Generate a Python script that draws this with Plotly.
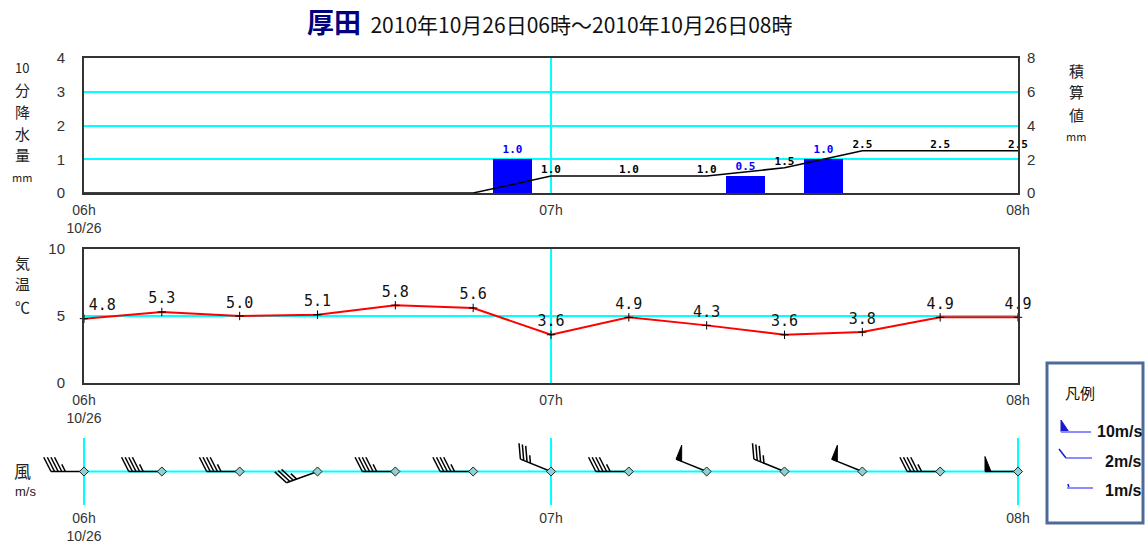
import math
import plotly.graph_objects as go

# ---------------- data ----------------
station = "厚田"
period = "2010年10月26日06時～2010年10月26日08時"
time_labels = ["06:00", "06:10", "06:20", "06:30", "06:40", "06:50", "07:00",
               "07:10", "07:20", "07:30", "07:40", "07:50", "08:00"]
precip_10min = [0, 0, 0, 0, 0, 0, 1.0, 0, 0, 0.5, 1.0, 0, 0]          # mm (left axis)
precip_total = [0, 0, 0, 0, 0, 0, 1.0, 1.0, 1.0, 1.5, 2.5, 2.5, 2.5]  # mm (right axis)
temperature = [4.8, 5.3, 5.0, 5.1, 5.8, 5.6, 3.6, 4.9, 4.3, 3.6, 3.8, 4.9, 4.9]
wind_dir = [270, 270, 270, 250, 270, 270, 292, 270, 292, 292, 292, 270, 270]  # deg (from)
wind_speed = [9, 9, 9, 7, 9, 9, 7, 9, 10, 7, 10, 9, 10]                        # m/s
tick_times = ["06:00", "07:00", "08:00"]
tick_text = ["06h<br>10/26", "07h", "08h"]
precip_ticks = [0, 1, 2, 3, 4]
total_ticks = [0, 2, 4, 6, 8]
temp_ticks = [0, 5, 10]
legend_labels = ["10m/s", "2m/s", "1m/s"]
precip_title = ["10", "分", "降", "水", "量", "mm"]
total_title = ["積", "算", "値", "mm"]
temp_title = ["気", "温", "℃"]
wind_title = ["風", "m/s"]

# ---------------- layout geometry (pixels) ----------------
W, H = 1145, 547
PL, PR = 84, 1018
TOP_T, TOP_B = 58, 193
MID_T, MID_B = 249, 383
WND_T, WND_B = 438, 505
WND_L, WND_R = 30, 1040

CYAN = "#00ffff"
AXC = "#333333"
TICKFONT = dict(family="Liberation Sans, Arial", size=14, color="#333333")
CJK = "Noto Sans CJK JP"


def to_min(s):
    h, m = s.split(":")
    return (int(h) - 6) * 60 + int(m)


minutes = [to_min(t) for t in time_labels]
tickvals = [to_min(t) for t in tick_times]
t0, t1 = minutes[0], minutes[-1]
PPM = (PR - PL) / (t1 - t0)  # pixels per minute


def fx(px):
    return px / W


def fy(py):
    return 1 - py / H


fig = go.Figure()

# ---- precipitation panel ----
fig.add_trace(go.Bar(
    x=[m - 5 for m in minutes], y=precip_10min, width=5,
    marker=dict(color="#0000ff", line_width=0),
    text=[f"{v:.1f}" if v > 0 else "" for v in precip_10min],
    textposition="outside", cliponaxis=False,
    textfont=dict(family="DejaVu Sans Mono", size=11, color="#0000ff", weight="bold"),
    xaxis="x", yaxis="y", hoverinfo="skip"))

fig.add_trace(go.Scatter(
    x=minutes, y=precip_total, mode="lines+text",
    line=dict(color="black", width=1.5),
    text=[f"{v:.1f}" if v > 0 else "" for v in precip_total],
    textposition="top center", cliponaxis=False,
    textfont=dict(family="DejaVu Sans Mono", size=11, color="black", weight="bold"),
    xaxis="x", yaxis="y2", hoverinfo="skip"))

# ---- temperature panel ----
fig.add_trace(go.Scatter(
    x=minutes, y=temperature, mode="lines+markers+text",
    line=dict(color="#ff0000", width=2),
    marker=dict(symbol="cross-thin", size=6, line=dict(color="black", width=1)),
    text=[f"{v:.1f}" for v in temperature],
    textposition=["top right"] + ["top center"] * (len(temperature) - 1),
    cliponaxis=False,
    textfont=dict(family="DejaVu Sans Mono", size=15, color="#111111"),
    xaxis="x2", yaxis="y3", hoverinfo="skip"))

# ---- wind panel ----
fig.add_trace(go.Scatter(
    x=[t0, t1], y=[0, 0], mode="lines", line=dict(color=CYAN, width=2),
    xaxis="x3", yaxis="y4", hoverinfo="skip"))

SHAFT, SPACING, LONG, SHORT = 33, 3.6, 16, 8
FLAG_H, FLAG_W = 15, 6
lx, ly, flx, fly = [], [], [], []
for m, d, s in zip(minutes, wind_dir, wind_speed):
    th = math.radians(d)
    ux, uy = math.sin(th), math.cos(th)          # pointing to where the wind comes from
    a = math.radians(-63)
    bx, by = ux * math.cos(a) - uy * math.sin(a), ux * math.sin(a) + uy * math.cos(a)
    fxv, fyv = uy, -ux                             # perpendicular for the flag
    if fyv < 0:
        fxv, fyv = -fxv, -fyv

    def P(px, py):
        return m + px / PPM, py

    ex, ey = SHAFT * ux, SHAFT * uy
    x0, y0 = P(0, 0)
    x1, y1 = P(ex, ey)
    lx += [x0, x1, None]
    ly += [y0, y1, None]
    pos = SHAFT
    flags, rem = divmod(int(round(s)), 10)
    longs, shorts = divmod(rem, 2)
    for _ in range(flags):
        px_, py_ = pos * ux, pos * uy
        pa = P(px_, py_)
        pb = P(px_ + FLAG_H * fxv, py_ + FLAG_H * fyv)
        pc = P(px_ - FLAG_W * ux, py_ - FLAG_W * uy)
        flx += [pa[0], pb[0], pc[0], pa[0], None]
        fly += [pa[1], pb[1], pc[1], pa[1], None]
        pos -= FLAG_W + 3
    for k in range(longs + shorts):
        ln = LONG if k < longs else SHORT
        px_, py_ = pos * ux, pos * uy
        pa = P(px_, py_)
        pb = P(px_ + ln * bx, py_ + ln * by)
        lx += [pa[0], pb[0], None]
        ly += [pa[1], pb[1], None]
        pos -= SPACING

fig.add_trace(go.Scatter(x=lx, y=ly, mode="lines", line=dict(color="black", width=1.5),
                         xaxis="x3", yaxis="y4", hoverinfo="skip"))
fig.add_trace(go.Scatter(x=flx, y=fly, mode="lines", fill="toself", fillcolor="black",
                         line=dict(color="black", width=1), xaxis="x3", yaxis="y4",
                         hoverinfo="skip"))
fig.add_trace(go.Scatter(x=minutes, y=[0] * len(minutes), mode="markers",
                         marker=dict(symbol="diamond", size=7, color="#8fd0d0",
                                     line=dict(color="#222222", width=1)),
                         xaxis="x3", yaxis="y4", hoverinfo="skip"))

# ---------------- axes ----------------
box_x = dict(domain=[fx(PL), fx(PR)], range=[t0, t1], tickvals=tickvals, ticktext=tick_text,
             showgrid=True, gridcolor=CYAN, gridwidth=2, showline=True, linecolor=AXC,
             linewidth=2, mirror=True, ticks="", zeroline=False, tickfont=TICKFONT,
             ticklabelstandoff=3, fixedrange=True)
box_y = dict(showgrid=True, gridcolor=CYAN, gridwidth=2, showline=True, linecolor=AXC,
             linewidth=2, mirror=True, ticks="", zeroline=False,
             tickfont=dict(TICKFONT, size=15),
             ticklabelstandoff=14, fixedrange=True)

wl = t0 - (PL - WND_L) / PPM
wr = t1 + (WND_R - PR) / PPM
half = (WND_B - WND_T) / 2

fig.update_layout(
    width=W, height=H, template="none",
    margin=dict(l=0, r=0, t=0, b=0, pad=0),
    paper_bgcolor="white", plot_bgcolor="rgba(0,0,0,0)",
    showlegend=False, bargap=0,
    xaxis=dict(box_x, anchor="y"),
    yaxis=dict(box_y, domain=[fy(TOP_B), fy(TOP_T)], range=[0, 4], tickvals=precip_ticks,
               anchor="x"),
    yaxis2=dict(overlaying="y", side="right", range=[0, 8], tickvals=total_ticks,
                showgrid=False, zeroline=False, ticks="", showline=False,
                tickfont=dict(TICKFONT, size=15),
                ticklabelstandoff=8, anchor="x", fixedrange=True),
    xaxis2=dict(box_x, anchor="y3"),
    yaxis3=dict(box_y, domain=[fy(MID_B), fy(MID_T)], range=[0, 10], tickvals=temp_ticks,
                anchor="x2"),
    xaxis3=dict(domain=[fx(WND_L), fx(WND_R)], range=[wl, wr], tickvals=tickvals,
                ticktext=tick_text, showgrid=True, gridcolor=CYAN, gridwidth=2,
                showline=False, zeroline=False, ticks="", tickfont=TICKFONT,
                ticklabelstandoff=3, anchor="y4", fixedrange=True),
    yaxis4=dict(domain=[fy(WND_B), fy(WND_T)], range=[-half, half], visible=False,
                anchor="x3", fixedrange=True),
)

# ---------------- text ----------------
ann = []


def add_text(text, x, y, size=17, family=CJK, color="#222222", xanchor="center"):
    ann.append(dict(text=text, x=fx(x), y=fy(y), xref="paper", yref="paper",
                    showarrow=False, xanchor=xanchor, yanchor="middle",
                    font=dict(family=family, size=size, color=color)))


def stack(chars, x, y_first, step, sizes):
    for i, (c, sz) in enumerate(zip(chars, sizes)):
        add_text(c, x, y_first + i * step, size=sz)


add_text(f"<b><span style='color:#000080;font-size:27px'>{station}</span></b>  "
         f"<span style='font-size:21px'>{period}</span>", 550, 22, size=21, color="#111111")
stack(precip_title, 22, 67, 22, [13, 15, 15, 15, 15, 11])
stack(total_title, 1076, 70, 22, [15, 15, 15, 11])
stack(temp_title, 22, 262, 22, [15, 15, 15])
add_text(wind_title[0], 22, 470, size=17)
add_text(wind_title[1], 25, 492, size=13, family="Liberation Sans, Arial")

# legend box
shapes = [dict(type="rect", xref="paper", yref="paper", x0=fx(1047), x1=fx(1143),
               y0=fy(523), y1=fy(363), line=dict(color="#4d6b99", width=3),
               fillcolor="white", layer="above")]
add_text("凡例", 1080, 392, size=15, color="#111111")
LB = "#8c8cff"
DB = "#1a1ad0"


def seg(x0, y0, x1, y1, color, width):
    shapes.append(dict(type="line", xref="paper", yref="paper", x0=fx(x0), y0=fy(y0),
                       x1=fx(x1), y1=fy(y1), line=dict(color=color, width=width),
                       layer="above"))


shapes.append(dict(type="path", xref="paper", yref="paper",
                   path=f"M {fx(1061)} {fy(420)} L {fx(1061)} {fy(432)} L {fx(1069)} {fy(432)} Z",
                   fillcolor=DB, line=dict(color=DB, width=1), layer="above"))
seg(1061, 432, 1091, 432, LB, 2)
seg(1059, 449, 1066, 458, DB, 1.5)
seg(1066, 458, 1092, 458, LB, 2)
seg(1068, 484, 1069, 488, DB, 1.5)
seg(1067, 488, 1093, 488, LB, 2)
for lab, x, y in zip(legend_labels, [1095, 1103, 1103], [431, 461, 490]):
    add_text(f"<b>{lab}</b>", x, y, size=16, family="Liberation Sans, Arial",
             color="#111111", xanchor="left")

fig.update_layout(annotations=ann, shapes=shapes)
fig.write_html("out.html")
